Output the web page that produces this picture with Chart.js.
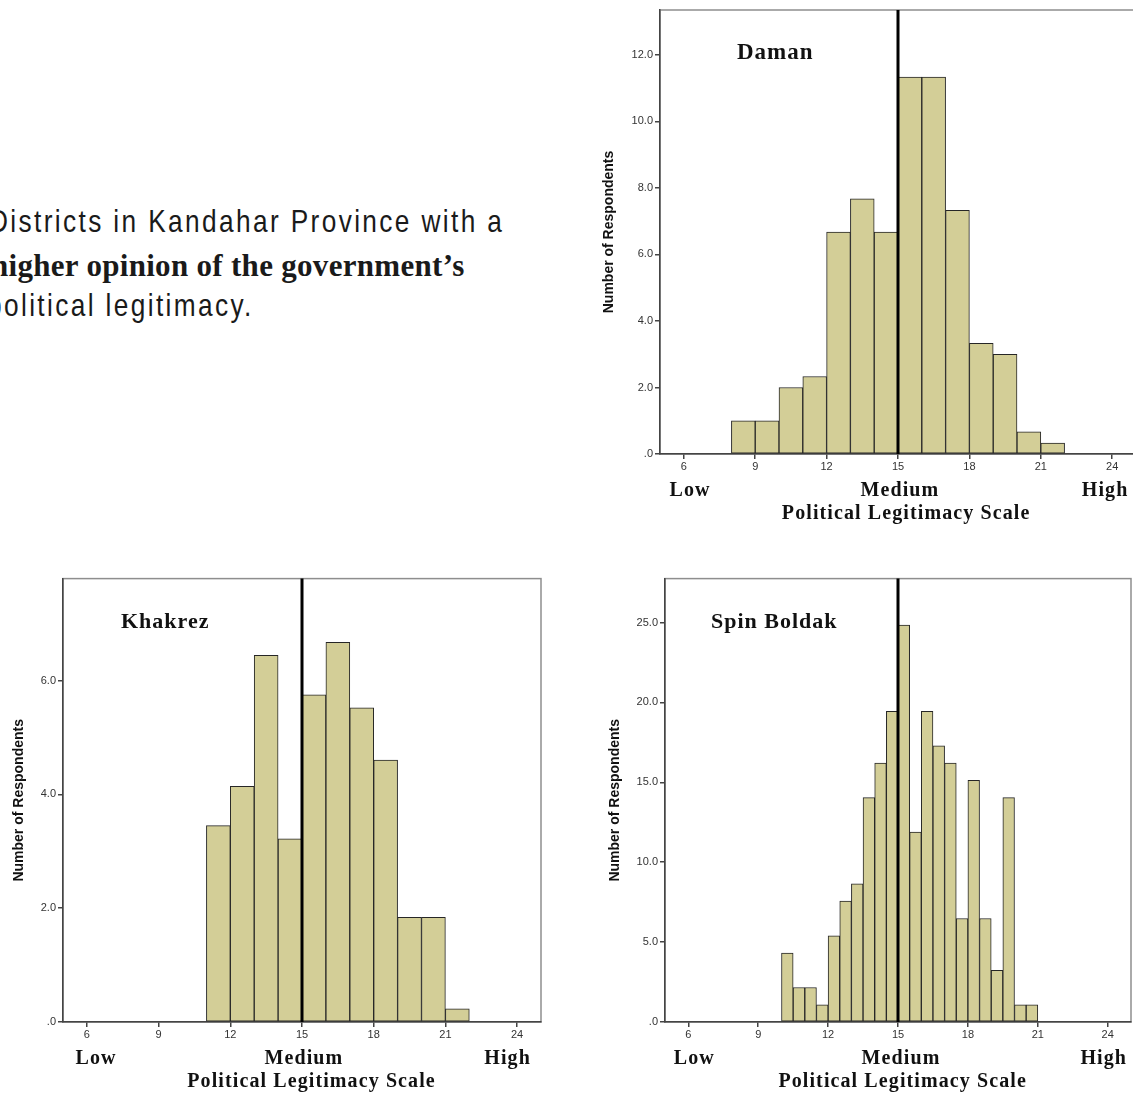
<!DOCTYPE html>
<html><head><meta charset="utf-8">
<script src="https://cdn.jsdelivr.net/npm/chart.js@4.4.0/dist/chart.umd.min.js"></script>
<style>
html,body{margin:0;padding:0;background:#fff;width:1133px;height:1094px;overflow:hidden;position:relative}
canvas{position:absolute}
.line{position:absolute;left:-11px;white-space:nowrap;color:#1a1a1a;transform-origin:0 0}
.narrow{font-family:"Liberation Sans",Arial,sans-serif;font-size:32px;line-height:32px;letter-spacing:2.9px;transform:scaleX(0.82)}
.bold{font-family:"Liberation Serif","Times New Roman",serif;font-weight:bold;font-size:31px;line-height:31px;letter-spacing:0.3px}
</style></head><body>
<div class="line narrow" style="top:205px">Districts in Kandahar Province with a</div>
<div class="line bold" style="top:250px;left:-9px">higher opinion of the government’s</div>
<div class="line narrow" style="top:289px;left:-13px">political legitimacy.</div>
<canvas id="daman" width="545" height="535" style="left:595px;top:0"></canvas>
<canvas id="khakrez" width="546" height="524" style="left:0;top:570px"></canvas>
<canvas id="spin" width="538" height="524" style="left:595px;top:570px"></canvas>
<script>
// ---- data ----
const xTickValues = [6, 9, 12, 15, 18, 21, 24];
const midpoint = 15;
const scaleLabels = ['Low', 'Medium', 'High'];
const xTitle = 'Political Legitimacy Scale';
const yTitle = 'Number of Respondents';

const damanBinStart = [8, 9, 10, 11, 12, 13, 14, 15, 16, 17, 18, 19, 20, 21];
const damanCounts   = [1.0, 1.0, 2.0, 2.33, 6.67, 7.67, 6.67, 11.33, 11.33, 7.33, 3.33, 3.0, 0.67, 0.33];
const damanBinWidth = 1;
const damanYTicks   = [0, 2, 4, 6, 8, 10, 12];

const khakrezBinStart = [11, 12, 13, 14, 15, 16, 17, 18, 19, 20, 21];
const khakrezCounts   = [3.45, 4.14, 6.44, 3.22, 5.75, 6.67, 5.52, 4.60, 1.84, 1.84, 0.23];
const khakrezBinWidth = 1;
const khakrezYTicks   = [0, 2, 4, 6];

const spinBinStart = [10, 10.5, 11, 11.5, 12, 12.5, 13, 13.5, 14, 14.5, 15, 15.5, 16, 16.5, 17, 17.5, 18, 18.5, 19, 19.5, 20, 20.5];
const spinCounts   = [4.32, 2.16, 2.16, 1.08, 5.40, 7.56, 8.64, 14.04, 16.20, 19.44, 24.84, 11.88, 19.44, 17.28, 16.20, 6.48, 15.12, 6.48, 3.24, 14.04, 1.08, 1.08];
const spinBinWidth = 0.5;
const spinYTicks   = [0, 5, 10, 15, 20, 25];

// ---- drawing ----
const FILL = '#d3ce97', EDGE = '#262626', AXIS = '#444';

const decor = {
  id: 'decor',
  beforeDraw(chart) {
    const {ctx, chartArea: a} = chart;
    ctx.save();
    ctx.strokeStyle = '#8e8e8e'; ctx.lineWidth = 1.5;
    ctx.strokeRect(a.left, a.top, a.right - a.left, a.bottom - a.top);
    ctx.restore();
  },
  afterDatasetsDraw(chart, args, o) {
    const {ctx, chartArea: a, scales: {x}} = chart;
    const px = x.getPixelForValue(midpoint);
    ctx.save();
    ctx.strokeStyle = '#000'; ctx.lineWidth = 3;
    ctx.beginPath(); ctx.moveTo(px, a.top); ctx.lineTo(px, a.bottom); ctx.stroke();
    ctx.fillStyle = '#111';
    ctx.textBaseline = 'middle';
    ctx.textAlign = 'left';
    ctx.font = 'bold ' + o.nameSize + 'px "Liberation Serif"';
    ctx.letterSpacing = '1px';
    ctx.fillText(o.name, a.left + o.nameDx, a.top + o.nameDy);
    ctx.font = 'bold 20px "Liberation Serif"';
    ctx.letterSpacing = '1.1px';
    ctx.textAlign = 'center';
    o.labelAt.forEach((v, i) => ctx.fillText(scaleLabels[i], x.getPixelForValue(v), a.bottom + 37));
    ctx.fillText(xTitle, x.getPixelForValue(o.titleAt), a.bottom + 60);
    ctx.restore();
  }
};

function makeChart(id, binStart, counts, binWidth, yTicks, o) {
  const tickFont = {family: 'Liberation Sans', size: 11};
  new Chart(document.getElementById(id), {
    type: 'bar',
    data: {
      datasets: [{
        data: binStart.map((b, i) => ({x: b + binWidth / 2, y: counts[i]})),
        backgroundColor: FILL, borderColor: EDGE, borderWidth: 1,
        borderSkipped: false, barPercentage: 1, categoryPercentage: 1
      }]
    },
    options: {
      responsive: false, animation: false, devicePixelRatio: 1,
      layout: {padding: o.pad},
      plugins: {legend: {display: false}, tooltip: {enabled: false}, decor: o},
      scales: {
        x: {
          type: 'linear', min: 5, max: 25, offset: false,
          afterBuildTicks: s => { s.ticks = xTickValues.map(v => ({value: v})); },
          afterFit: s => { s.height = o.xAxisH; },
          ticks: {font: tickFont, color: '#333', padding: 1, maxRotation: 0, autoSkip: false},
          grid: {offset: false, drawOnChartArea: false, drawTicks: true, tickLength: 5, color: AXIS, lineWidth: 1.5},
          border: {display: true, color: AXIS, width: 1.5}
        },
        y: {
          min: 0, max: o.yMax,
          afterBuildTicks: s => { s.ticks = yTicks.map(v => ({value: v})); },
          afterFit: s => { s.width = o.yAxisW; },
          ticks: {font: tickFont, color: '#333', padding: 2,
                  callback: v => v === 0 ? '.0' : v.toFixed(1)},
          grid: {drawOnChartArea: false, drawTicks: true, tickLength: 5, color: AXIS, lineWidth: 1.5},
          border: {display: true, color: AXIS, width: 1.5},
          title: {display: true, text: yTitle, color: '#111',
                  font: {family: 'Liberation Sans', size: 14, weight: 'bold'},
                  padding: {top: o.yTitlePad, bottom: 0}}
        }
      }
    },
    plugins: [decor]
  });
}

makeChart('daman', damanBinStart, damanCounts, damanBinWidth, damanYTicks, {
  name: 'Daman', nameDx: 77, nameDy: 43, nameSize: 23,
  pad: {top: 10, left: 0, right: 4, bottom: 5}, xAxisH: 76, yAxisW: 65,
  yMax: 13.35, yTitlePad: 6, labelAt: [6.26, 15.08, 23.7], titleAt: 15.34
});
makeChart('khakrez', khakrezBinStart, khakrezCounts, khakrezBinWidth, khakrezYTicks, {
  name: 'Khakrez', nameDx: 58, nameDy: 44, nameSize: 22,
  pad: {top: 8, left: 0, right: 5, bottom: 4}, xAxisH: 68, yAxisW: 63,
  yMax: 7.79, yTitlePad: 11, labelAt: [6.38, 15.08, 23.6], titleAt: 15.4
});
makeChart('spin', spinBinStart, spinCounts, spinBinWidth, spinYTicks, {
  name: 'Spin Boldak', nameDx: 46, nameDy: 44, nameSize: 22,
  pad: {top: 8, left: 0, right: 2, bottom: 4}, xAxisH: 68, yAxisW: 70,
  yMax: 27.75, yTitlePad: 12, labelAt: [6.26, 15.13, 23.83], titleAt: 15.2
});
</script>
</body></html>
